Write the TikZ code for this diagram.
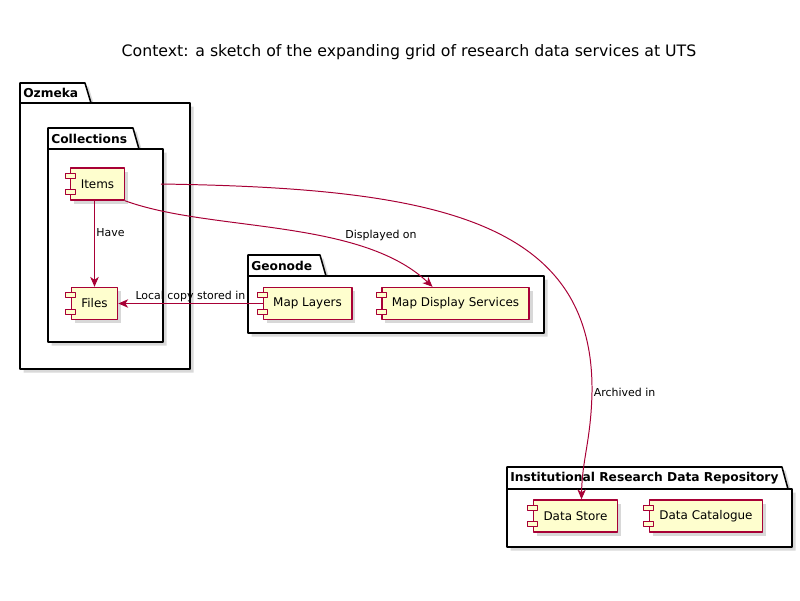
\documentclass[tikz,border=0pt]{standalone}
\usepackage{fontspec}
\setmainfont{DejaVu Sans}
\usetikzlibrary{arrows.meta,calc,shadows}
\definecolor{umlred}{HTML}{A80036}
\definecolor{umlyellow}{HTML}{FEFECE}
\begin{document}
\begin{tikzpicture}[x=0.025cm, y=-0.025cm, line join=round, >={Stealth[length=7pt,width=6pt,inset=2pt]},
  pkg/.style={draw=black, line width=1.1pt, fill=white},
  pkgshadow/.style={drop shadow={shadow xshift=2.5pt, shadow yshift=-2.5pt, opacity=.3}},
  pkgtitle/.style={anchor=west, inner sep=0pt, font=\fontsize{8.7}{10}\selectfont\bfseries},
  comp/.style={draw=umlred, fill=umlyellow, line width=1pt, minimum height=0.8cm, inner xsep=0.25cm,
    font=\fontsize{8.5}{10}\selectfont, drop shadow={shadow xshift=2.5pt, shadow yshift=-2.5pt, opacity=.3}},
  compicon/.style={draw=umlred, fill=umlyellow, line width=0.8pt},
  link/.style={draw=umlred, line width=0.7pt, ->},
  lbl/.style={font=\fontsize{7.8}{9}\selectfont, inner sep=1pt}]
  \useasboundingbox (0,0) rectangle (800,600);
  \node[font=\fontsize{11.2}{13}\selectfont] (title) at (409,52) {Context: a sketch of the expanding grid of research data services at UTS};
  % packages
  \foreach \xa/\ya/\tr/\yb/\xb/\yc/\nm/\ttl in {20/83/85/103/190/369/ozmeka/Ozmeka, 48/128/133/149/163/342/collections/Collections, 248/255/320/276/544/333/geonode/Geonode, 507/467/782/489/792/547/repository/Institutional Research Data Repository}{
    \draw[pkg, pkgshadow] (\xa,\ya) -- (\tr,\ya) -- (\tr+6,\yb) -- (\xb,\yb) -- (\xb,\yc) -- (\xa,\yc) -- cycle;
    \draw[pkg] (\xa,\yb) -- (\tr+6,\yb);
    \node[pkgtitle] (\nm) at (\xa+3,{(\ya+\yb)/2}) {\ttl};
    \coordinate (\nm-se) at (\xb,\yc);
  }
  % components
  \node[comp] (items) at (97.5,184) {Items};
  \node[comp] (files) at (94.5,303.5) {Files};
  \node[comp] (layers) at (307.5,303.5) {Map Layers};
  \node[comp] (display) at (455.5,303.5) {Map Display Services};
  \node[comp] (store) at (575.5,516) {Data Store};
  \node[comp] (catalogue) at (706,516) {Data Catalogue};
  \foreach \n in {items,files,layers,display,store,catalogue}{
    \draw[compicon] ($(\n.north west)+(-5,6)$) rectangle ++(10,5);
    \draw[compicon] ($(\n.south west)+(-5,-11)$) rectangle ++(10,5);
  }
  % links
  \draw[link] (items.south -| files.north) -- node[lbl, right, pos=.37] (lhave) {Have} (files.north);
  \draw[link] (items.south east) .. controls (210,232) and (360,218) .. ($(display.north)+(-23,0)$);
  \node[lbl] (lshown) at (381,235) {Displayed on};
  \draw[link] (layers.west) -- node[lbl, above] (lcopy) {Local copy stored in} (files.east);
  \draw[link] ($(items.east -| collections-se)+(-2,0)$) .. controls (430,188) and (594,218) .. (592,392)
    node[lbl, right] (larchive) {Archived in} .. controls (591,440) and (582,460) .. ($(store.north)+(6,0)$);
\end{tikzpicture}
\end{document}
